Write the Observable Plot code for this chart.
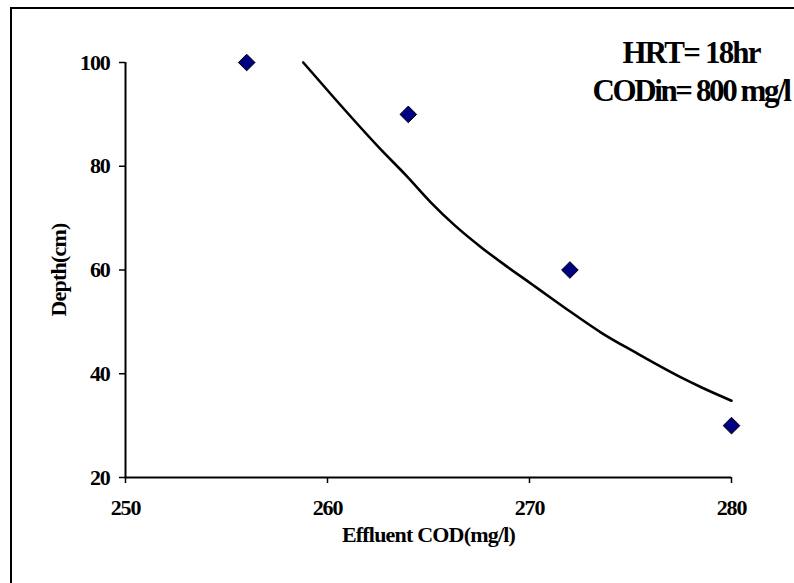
<!DOCTYPE html>
<html><head><meta charset="utf-8">
<script src="https://cdn.jsdelivr.net/npm/d3@7"></script>
<script src="https://cdn.jsdelivr.net/npm/@observablehq/plot@0.6"></script>
<style>
html,body{margin:0;padding:0;background:#fff;overflow:hidden;width:794px;height:583px}
#wrap{position:relative;width:794px;height:583px;overflow:hidden}
#wrap svg{position:absolute;left:0;top:0}
#border{position:absolute;left:10px;top:7px;width:820px;height:620px;border:2px solid #000;box-sizing:border-box;pointer-events:none}
</style></head><body><div id="wrap"></div>
<script>
// Measured data points (diamonds)
const codPoints = [256, 264, 272, 280];
const depthPoints = [100, 90, 60, 30];
// Trend line
const trendCod = [258.8, 260.3, 262.6, 263.9, 265.1, 266.3, 267.6, 268.8, 270.1, 271.1, 271.9, 273.6, 275.2, 277.5, 278.5, 280];
const trendDepth = [100, 93.3, 83.4, 78.2, 73.1, 68.6, 64.4, 60.9, 57.3, 54.5, 52.3, 47.8, 44.2, 39.3, 37.4, 34.8];
// Ticks and labels
const xTicks = [250, 260, 270, 280];
const yTicks = [20, 40, 60, 80, 100];
const xLabel = "Effluent COD(mg/l)";
const yLabel = "Depth(cm)";
const noteLines = ["HRT= 18hr", "CODin= 800 mg/l"];

// annotation placement (data coordinates)
const noteX = 278.0;
const noteY = [101.85, 94.5];

const points = codPoints.map((x, i) => ({x, y: depthPoints[i]}));
const trend = trendCod.map((x, i) => ({x, y: trendDepth[i]}));
const notes = noteLines.map((t, i) => ({t, x: noteX, y: noteY[i]}));

const serif = "'Liberation Serif','Times New Roman',serif";

const chart = Plot.plot({
  width: 794, height: 583,
  marginLeft: 125, marginRight: 63, marginTop: 62, marginBottom: 106,
  x: {domain: [250, 280]},
  y: {domain: [20, 100]},
  style: {fontFamily: serif, fontWeight: "bold", background: "transparent", color: "#000", overflow: "hidden"},
  marks: [
    Plot.axisX(xTicks, {tickSize: 6, tickPadding: 16, fontSize: 22, label: null, strokeWidth: 1.5}),
    Plot.axisY(yTicks, {tickSize: 6, tickPadding: 10, fontSize: 22, label: null, strokeWidth: 1.5}),
    Plot.ruleX([250], {strokeWidth: 2}),
    Plot.ruleY([20], {strokeWidth: 2}),
    Plot.line(trend, {x: "x", y: "y", curve: "monotone-x", stroke: "#000", strokeWidth: 2.6}),
    Plot.dot(points, {x: "x", y: "y", symbol: "diamond2", r: 7.5, fill: "#000080", stroke: "#000", strokeWidth: 1}),
    Plot.text([xLabel], {frameAnchor: "bottom", dy: 64, fontSize: 22, fontWeight: "bold", fill: "#000", textAnchor: "middle"}),
    Plot.text([yLabel], {frameAnchor: "left", rotate: -90, dx: -67, fontSize: 22, fontWeight: "bold", fill: "#000", textAnchor: "middle"}),
    Plot.text(notes, {x: "x", y: "y", text: "t", fontSize: 31, fontWeight: "bold", fill: "#000", textAnchor: "middle", lineAnchor: "middle"})
  ]
});

const wrap = document.getElementById("wrap");
wrap.appendChild(chart);
const border = document.createElement("div");
border.id = "border";
wrap.appendChild(border);

d3.select(chart).selectAll("text").style("letter-spacing", "-1.2px");
d3.select(chart).selectAll("text").filter(function() { return this.textContent === xLabel || this.textContent === yLabel; })
  .style("letter-spacing", "-0.8px");
d3.select(chart).selectAll("text").filter(function() { return this.textContent === noteLines[0]; })
  .style("letter-spacing", "-1.8px");
d3.select(chart).selectAll("text").filter(function() { return this.textContent === noteLines[1]; })
  .style("letter-spacing", "-2.4px");
</script>
</body></html>
